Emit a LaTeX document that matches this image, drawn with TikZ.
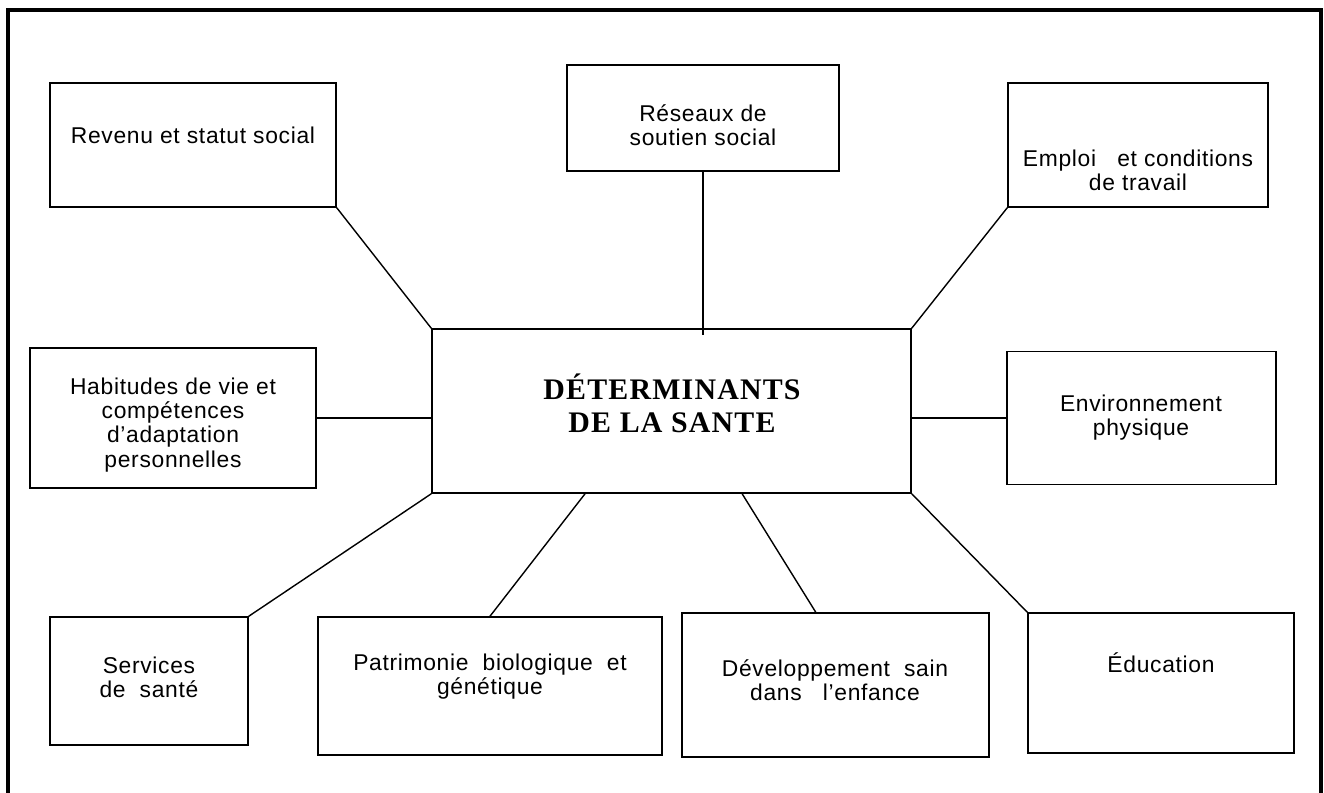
\documentclass[tikz,border=0pt]{standalone}
\usepackage{fontspec}
\setmainfont{Liberation Sans}
\newfontfamily\boxfont[LetterSpace=3]{Liberation Sans}
\newfontfamily\titlefont[LetterSpace=4]{Liberation Serif}
\usetikzlibrary{calc}

\begin{document}
\begin{tikzpicture}[x=0.02cm,y=-0.02cm,
    box/.style={draw, line width=0.9pt, inner sep=0pt},
    txt/.style={align=center, font=\boxfont\fontsize{13}{13.7}\selectfont},
    link/.style={line width=0.8pt}]

        \useasboundingbox (0,0) rectangle (1324,792);
        \clip (0,0) rectangle (1324,792);

        %Frame
        \draw[line width=2.2pt] (8,10) rectangle (1321,830);

        %Centre
        \node[box, minimum width=9.58cm, minimum height=3.28cm] (centre) at (671.5,411) {};
        \node[font=\titlefont\bfseries\fontsize{17}{18.8}\selectfont, align=center]
              (centre-t) at (672,403) {DÉTERMINANTS\\DE LA SANTE};

        %Top row
        \node[box, minimum width=5.72cm, minimum height=2.48cm] (revenu) at (193,145) {};
        \node[box, minimum width=5.44cm, minimum height=2.12cm] (reseaux) at (703,118) {};
        \node[box, minimum width=5.2cm, minimum height=2.48cm] (emploi) at (1138,145) {};

        \node[txt] (revenu-t) at (193,135) {Revenu et statut social};
        \node[txt] (reseaux-t) at (703,125) {Réseaux de\\soutien social};
        \node[txt] (emploi-t) at (1138,170) {Emploi\ \ \ et conditions\\de travail};

        %Middle row
        \node[box, minimum width=5.72cm, minimum height=2.8cm] (habitudes) at (173,418) {};
        \node[box, minimum width=5.38cm, minimum height=2.66cm] (environnement) at (1141.5,418) {};

        \node[txt] (habitudes-t) at (173,425) {Habitudes\ de\ vie\ et\\compétences\\d’adaptation\\personnelles};
        \node[txt] (environnement-t) at (1141,418) {Environnement\\physique};

        %Bottom row
        \node[box, minimum width=3.96cm, minimum height=2.56cm] (services) at (149,681) {};
        \node[box, minimum width=6.88cm, minimum height=2.76cm] (patrimonie) at (490,686) {};
        \node[box, minimum width=6.14cm, minimum height=2.88cm] (developpement) at (835.5,685) {};
        \node[box, minimum width=5.32cm, minimum height=2.8cm] (education) at (1161,683) {};

        \node[txt] (services-t) at (149,677) {Services\\de\ \ santé};
        \node[txt] (patrimonie-t) at (490,677) {Patrimonie\ \ biologique\ \ et\\génétique};
        \node[txt] (developpement-t) at (835,680) {Développement\ \ sain\\dans\ \ \ l’enfance};
        \node[txt] (education-t) at (1161,663) {Éducation};

        %Links
        \draw[link] (revenu.south east) -- (centre.north west);
        \draw[link] (reseaux.south) -- ([yshift=-4]reseaux.south |- centre.north);
        \draw[link] (emploi.south west) -- (centre.north east);
        \draw[link] (habitudes.east) -- (habitudes.east -| centre.west);
        \draw[link] (environnement.west) -- (environnement.west -| centre.east);
        \draw[link] (services.north east) -- (centre.south west);
        \draw[link] (patrimonie.north) -- ($(centre.south west)!0.32!(centre.south east)$);
        \draw[link] ($(developpement.north west)!0.436!(developpement.north east)$)
              -- ($(centre.south west)!0.647!(centre.south east)$);
        \draw[link] (education.north west) -- (centre.south east);

\end{tikzpicture}
\end{document}
